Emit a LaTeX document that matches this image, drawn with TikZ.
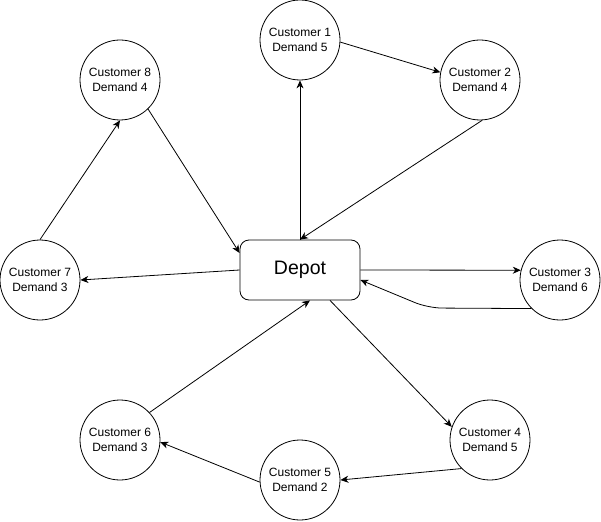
\documentclass[tikz,border=0pt]{standalone}
\usepackage{fontspec}
\setmainfont{Liberation Sans}
\usetikzlibrary{arrows.meta}
\begin{document}
\begin{tikzpicture}[x=1pt,y=-1pt,
  line width=0.8pt,
  customer/.style={circle,draw,minimum size=80pt,inner sep=0pt,align=center,
    font=\fontsize{12}{15}\selectfont},
  depotbox/.style={rectangle,draw,rounded corners=9pt,minimum width=120pt,
    minimum height=60pt,inner sep=0pt,font=\fontsize{19.5}{22}\selectfont},
  route/.style={-{Stealth[length=8pt,width=7pt,inset=2.5pt]}}]
\useasboundingbox (0,0) rectangle (601,521);

% depot and customers
\node[depotbox] (depot) at (300,270) {Depot};
\node[customer] (c1) at (300,40)  {Customer 1\\Demand 5};
\node[customer] (c2) at (480,80)  {Customer 2\\Demand 4};
\node[customer] (c3) at (560,280) {Customer 3\\Demand 6};
\node[customer] (c4) at (490,440) {Customer 4\\Demand 5};
\node[customer] (c5) at (300,480) {Customer 5\\Demand 2};
\node[customer] (c6) at (120,440) {Customer 6\\Demand 3};
\node[customer] (c7) at (40,280)  {Customer 7\\Demand 3};
\node[customer] (c8) at (120,80)  {Customer 8\\Demand 4};

% route 1: depot -> 1 -> 2 -> depot
\draw[route] (depot.north) -- (c1.south);
\draw[route] (c1.-3) -- (c2.169);
\draw[route] (c2.-87) -- (depot.north);

% route 2: depot -> 3 -> depot
\draw[route] (depot.east) -- (c3.166);
\coordinate (bend) at (428,308);
\draw[route,rounded corners=14pt] (c3.-135) -- (bend) -- ([yshift=-10pt]depot.east);

% route 3: depot -> 4 -> 5 -> 6 -> depot
\draw[route] ([xshift=30pt]depot.south) -- (c4.161);
\draw[route] (c4.-135) -- (c5.east);
\draw[route] (c5.183) -- (c6.-3);
\draw[route] (c6.43) -- ([xshift=10pt]depot.south);

% route 4: depot -> 7 -> 8 -> depot
\draw[route] (depot.west) -- (c7.east);
\draw[route] (c7.north) -- (c8.south);
\draw[route] (c8.-46) -- ([yshift=17pt]depot.west);
\end{tikzpicture}
\end{document}
